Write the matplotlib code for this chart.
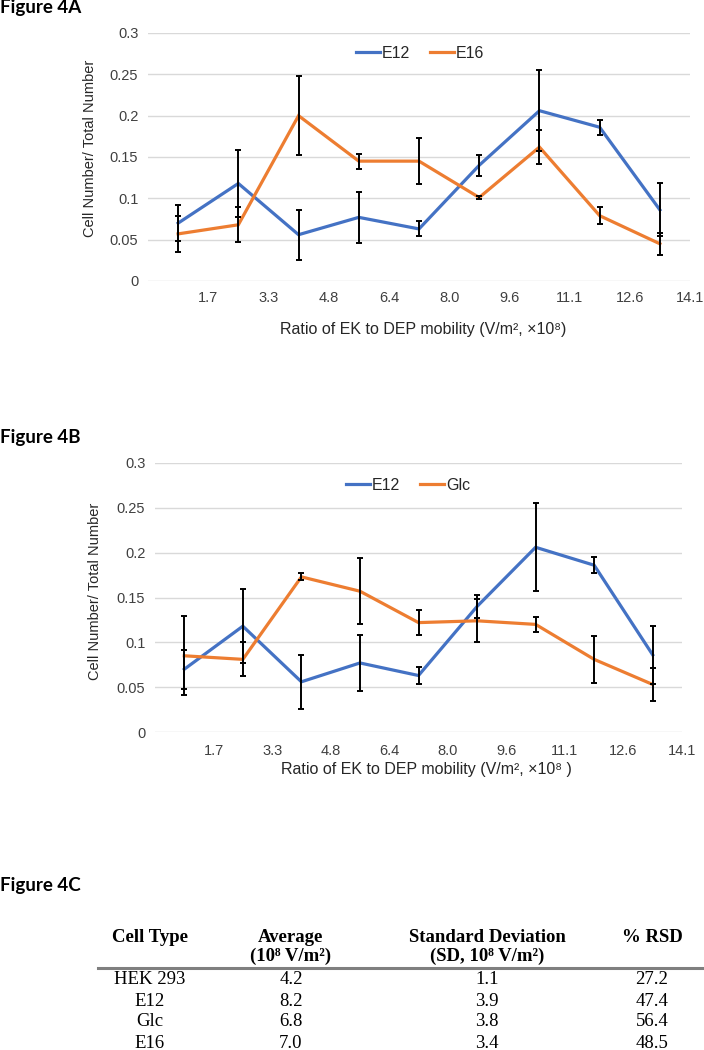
import matplotlib
matplotlib.use("Agg")
import matplotlib.pyplot as plt
import numpy as np

# data
ratio_labels = ["1.7", "3.3", "4.8", "6.4", "8.0", "9.6", "11.1", "12.6", "14.1"]
y_ticks = [0, 0.05, 0.1, 0.15, 0.2, 0.25, 0.3]
y_tick_labels = ["0", "0.05", "0.1", "0.15", "0.2", "0.25", "0.3"]

e12 = [0.070, 0.118, 0.056, 0.077, 0.063, 0.140, 0.206, 0.186, 0.086]
e12_err = [0.022, 0.041, 0.030, 0.031, 0.009, 0.013, 0.049, 0.009, 0.032]
e16 = [0.057, 0.068, 0.200, 0.145, 0.145, 0.101, 0.162, 0.079, 0.045]
e16_err = [0.022, 0.021, 0.048, 0.009, 0.028, 0.002, 0.021, 0.010, 0.013]
glc = [0.085, 0.081, 0.173, 0.157, 0.122, 0.124, 0.120, 0.081, 0.053]
glc_err = [0.044, 0.019, 0.004, 0.037, 0.014, 0.024, 0.008, 0.026, 0.018]

table_cols = ["Cell Type", "Average", "Standard Deviation", "% RSD"]
table_units = ["", "(10⁸ V/m²)", "(SD, 10⁸ V/m²)", ""]
cell_types = ["HEK 293", "E12", "Glc", "E16"]
averages = ["4.2", "8.2", "6.8", "7.0"]
std_devs = ["1.1", "3.9", "3.8", "3.4"]
rsds = ["27.2", "47.4", "56.4", "48.5"]

BLUE = "#4472C4"
ORANGE = "#ED7D31"
SANS = ["Liberation Sans", "DejaVu Sans"]
SERIF = ["Liberation Serif", "DejaVu Serif"]
W, H = 704, 1050

fig = plt.figure(figsize=(W / 100, H / 100), dpi=100)


def px_axes(left, top, right, bottom):
    return fig.add_axes([left / W, 1 - bottom / H, (right - left) / W, (bottom - top) / H])


def draw_chart(ax, s1, s1_err, s2, s2_err, names, xlabel, xl_pos, yl_pos, leg_x, tick_pad):
    x = np.arange(len(s1))
    l1, = ax.plot(x, s1, color=BLUE, lw=2.3, solid_joinstyle="miter", zorder=2)
    l2, = ax.plot(x, s2, color=ORANGE, lw=2.3, solid_joinstyle="miter", zorder=2)
    for s, e in [(s1, s1_err), (s2, s2_err)]:
        ax.errorbar(x, s, yerr=e, fmt="none", ecolor="black", elinewidth=1.4,
                    capsize=2.5, capthick=1.4, zorder=3)
    ax.set_xlim(-0.5, 8.5)
    ax.set_ylim(0, 0.3)
    ax.set_yticks(y_ticks)
    ax.set_yticklabels(y_tick_labels, family=SANS, fontsize=10.5, color="#404040")
    ax.set_xticks(x + 0.5)
    ax.set_xticklabels(ratio_labels, family=SANS, fontsize=10.5, color="#404040")
    ax.tick_params(axis="both", length=0)
    ax.tick_params(axis="y", pad=7)
    ax.tick_params(axis="x", pad=tick_pad)
    ax.yaxis.grid(True, color="#D9D9D9", lw=1)
    ax.set_axisbelow(True)
    for sp in ax.spines.values():
        sp.set_visible(False)
    ax.set_ylabel("Cell Number/ Total Number", family=SANS, fontsize=10.5, color="#262626")
    ax.yaxis.set_label_coords(*yl_pos)
    ax.set_xlabel(xlabel, family=SANS, fontsize=11.5, color="#262626", va="center")
    ax.xaxis.set_label_coords(*xl_pos)
    leg = ax.legend([l1, l2], names, loc="center", bbox_to_anchor=(leg_x, 0.918),
                    ncol=2, frameon=False, handlelength=1.5, handletextpad=0.15,
                    columnspacing=1.2, prop={"family": SANS, "size": 11.5})
    for t in leg.get_texts():
        t.set_color("#262626")


ax1 = px_axes(148, 33, 690, 281)
draw_chart(ax1, e12, e12_err, e16, e16_err, ["E12", "E16"],
           "Ratio of EK to DEP mobility (V/m², ×10⁸)",
           (0.507, -0.194), (-0.094, 0.534), 0.502, 7)

ax2 = px_axes(155, 463, 682, 732)
draw_chart(ax2, e12, e12_err, glc, glc_err, ["E12", "Glc"],
           "Ratio of EK to DEP mobility (V/m², ×10⁸ )",
           (0.515, -0.138), (-0.1, 0.524), 0.48, 8.5)

# panel titles
for label, yc in [("Figure 4A", 8), ("Figure 4B", 437), ("Figure 4C", 885)]:
    fig.text(0, 1 - yc / H, label, family=["Lato", "DejaVu Sans"], fontweight="bold",
             fontsize=13.5, ha="left", va="center")

# table 4C
col_x = [150, 291, 487, 652]
for cx, head, unit in zip(col_x, table_cols, table_units):
    fig.text(cx / W, 1 - 937 / H, head, family=SERIF, fontweight="bold",
             fontsize=13.5, ha="center", va="center")
    if unit:
        fig.text(cx / W, 1 - 956 / H, unit, family=SERIF, fontweight="bold",
                 fontsize=13.5, ha="center", va="center")

fig.add_artist(plt.Line2D([98 / W, 1.0], [1 - 968 / H, 1 - 968 / H],
                          color="#7F7F7F", lw=2.2, transform=fig.transFigure))

row_y = [980, 1001, 1022, 1043]
for i, yc in enumerate(row_y):
    for cx, val in zip(col_x, [cell_types[i], averages[i], std_devs[i], rsds[i]]):
        fig.text(cx / W, 1 - yc / H, val, family=SERIF, fontsize=13.5,
                 ha="center", va="center")

fig.savefig("out.png", dpi=100)
